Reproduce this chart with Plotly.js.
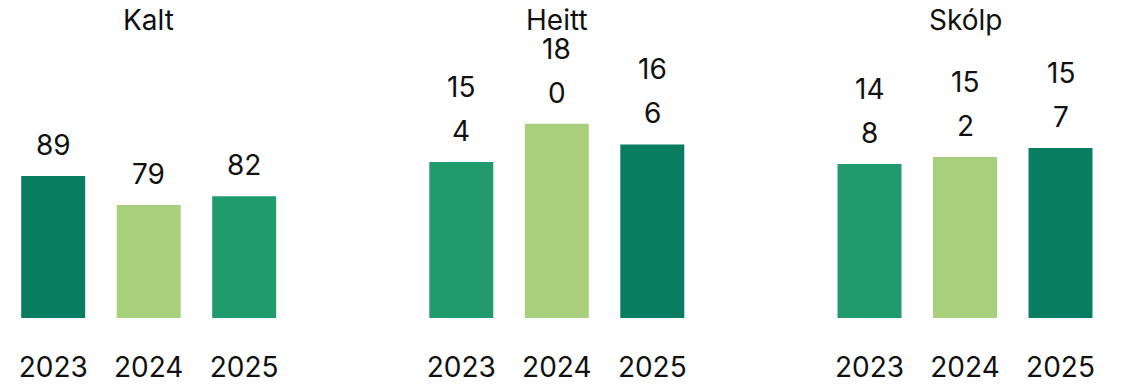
<!DOCTYPE html>
<html>
<head>
<meta charset="utf-8">
<script src="https://cdn.plot.ly/plotly-3.0.1.min.js"></script>
<style>html,body{margin:0;padding:0;background:#fff;}#chart{width:1127px;height:384px;}</style>
</head>
<body>
<div id="chart"></div>
<script>
// ---- data ----
const categories = ['2023', '2024', '2025'];
const panelTitles = ['Kalt', 'Heitt', 'Skólp'];
const kaltValues = [89, 79, 82];
const heittValues = [154, 180, 166];
const skolpValues = [148, 152, 157];

// ---- styles ----
const DARK = '#087D5F';
const LIGHT = '#A8CF7C';
const MID = '#219A6D';
const panelColors = [[DARK, LIGHT, MID], [MID, LIGHT, DARK], [MID, LIGHT, DARK]];
const yRanges = [[40, 135.9], [47.9, 237.0], [61.5, 217.7]];
const FONT = 'Inter, "Open Sans", sans-serif';
const TXT = '#111111';
const W = 1127, H = 384;
const centers = [148.7, 556.8, 965.0];
const halfW = 143.25;

const seriesList = [kaltValues, heittValues, skolpValues];

const traces = [];
const annotations = [];
const layout = {
  width: W, height: H,
  margin: {l: 0, r: 0, t: 0, b: 0},
  paper_bgcolor: '#fff', plot_bgcolor: '#fff',
  showlegend: false,
  bargap: 0.33,
  font: {family: FONT, color: TXT, size: 28},
  annotations: annotations
};

function splitLabel(v) {
  const s = String(v);
  if (s.length > 2) return [s.slice(0, 2), s.slice(2)];
  return [s];
}

seriesList.forEach((vals, i) => {
  const n = i === 0 ? '' : String(i + 1);
  const xa = 'x' + n, ya = 'y' + n;
  traces.push({
    type: 'bar', x: categories, y: vals,
    xaxis: xa, yaxis: ya,
    marker: {color: panelColors[i]},
    hoverinfo: 'none'
  });
  layout['xaxis' + n] = {
    domain: [(centers[i] - halfW) / W, (centers[i] + halfW) / W],
    anchor: ya,
    type: 'category', range: [-0.5, categories.length - 0.5], autorange: false,
    showgrid: false, zeroline: false, showline: false,
    ticks: '', tickfont: {family: FONT, size: 28, color: TXT},
    ticklabelstandoff: 30, fixedrange: true
  };
  layout['yaxis' + n] = {
    domain: [66 / H, 344 / H], range: yRanges[i], autorange: false,
    anchor: xa,
    showgrid: false, zeroline: false, showline: false, showticklabels: false,
    fixedrange: true
  };
  annotations.push({
    xref: xa + ' domain', yref: 'paper', x: 0.5, y: (H - 20.5) / H,
    xanchor: 'center', yanchor: 'middle', showarrow: false,
    text: panelTitles[i], font: {family: FONT, size: 28, color: TXT}
  });
  vals.forEach((v, j) => {
    const parts = splitLabel(v);
    parts.slice().reverse().forEach((p, k) => {
      annotations.push({
        xref: xa, yref: ya, x: j, y: v,
        xanchor: 'center', yanchor: 'middle', showarrow: false,
        yshift: 31 + 44 * k,
        text: p, font: {family: FONT, size: 28, color: TXT}
      });
    });
  });
});

Plotly.newPlot('chart', traces, layout, {displayModeBar: false, staticPlot: true});
</script>
</body>
</html>
